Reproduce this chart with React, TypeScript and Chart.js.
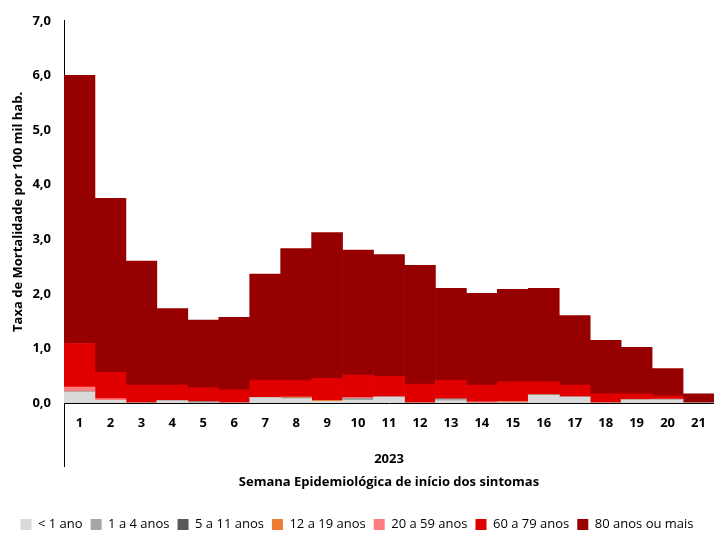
import React, { useEffect, useRef } from "react";
import { Chart, registerables } from "chart.js";

Chart.register(...registerables);

const weeks = ["1","2","3","4","5","6","7","8","9","10","11","12","13","14","15","16","17","18","19","20","21"];
const yTicks = [0, 1, 2, 3, 4, 5, 6, 7];

const menos1 = [0.2, 0.05, 0, 0.04, 0, 0, 0.1, 0.08, 0.03, 0.05, 0.11, 0, 0.04, 0, 0, 0.14, 0.11, 0, 0.06, 0.06, 0];
const de1a4 = [0.01, 0, 0, 0, 0.02, 0, 0, 0.01, 0, 0.03, 0, 0, 0.03, 0, 0.01, 0.01, 0, 0, 0, 0, 0];
const de5a11 = [0, 0, 0, 0, 0, 0, 0, 0, 0, 0, 0, 0, 0, 0, 0, 0, 0, 0, 0, 0, 0];
const de12a19 = [0, 0, 0, 0, 0, 0, 0, 0.02, 0.02, 0, 0, 0, 0, 0, 0.02, 0, 0, 0, 0, 0, 0];
const de20a59 = [0.08, 0.03, 0, 0, 0, 0, 0, 0, 0, 0.02, 0, 0, 0, 0.02, 0, 0, 0, 0, 0, 0.01, 0];
const de60a79 = [0.8, 0.48, 0.33, 0.29, 0.26, 0.24, 0.32, 0.3, 0.4, 0.41, 0.38, 0.345, 0.35, 0.31, 0.36, 0.24, 0.22, 0.17, 0.11, 0.06, 0];
const mais80 = [4.91, 3.19, 2.27, 1.4, 1.24, 1.33, 1.94, 2.42, 2.67, 2.29, 2.23, 2.175, 1.68, 1.68, 1.69, 1.71, 1.27, 0.98, 0.85, 0.5, 0.17];

const seriesNames = ["< 1 ano", "1 a 4 anos", "5 a 11 anos", "12 a 19 anos", "20 a 59 anos", "60 a 79 anos", "80 anos ou mais"];
const seriesData = [menos1, de1a4, de5a11, de12a19, de20a59, de60a79, mais80];
const seriesColors = ["#d9d9d9", "#a6a6a6", "#595959", "#ed7d31", "#ff7c80", "#e00000", "#960000"];

const FONT = "'Open Sans', sans-serif";

const axisExtend = {
  id: "axisExtend",
  afterDraw(chart: any) {
    const { ctx, chartArea } = chart;
    ctx.save();
    ctx.strokeStyle = "#000";
    ctx.lineWidth = 1;
    ctx.beginPath();
    ctx.moveTo(chartArea.left + 0.5, chartArea.bottom);
    ctx.lineTo(chartArea.left + 0.5, chartArea.bottom + 64);
    ctx.stroke();
    ctx.restore();
  },
};

export default function App() {
  const ref = useRef<HTMLCanvasElement>(null);
  useEffect(() => {
    if (!ref.current) return;
    const chart = new Chart(ref.current, {
      type: "bar",
      data: {
        labels: weeks,
        datasets: seriesNames.map((n, i) => ({
          label: n,
          data: seriesData[i],
          backgroundColor: seriesColors[i],
          borderWidth: 0,
          barPercentage: 1,
          categoryPercentage: 1,
        })),
      },
      options: {
        animation: false,
        responsive: false,
        devicePixelRatio: 1,
        layout: { padding: { top: 18, left: 0, right: 0, bottom: -8 } },
        plugins: {
          tooltip: { enabled: false },
          legend: {
            position: "bottom",
            labels: {
              boxWidth: 11,
              boxHeight: 11,
              padding: 8,
              color: "#000",
              font: { family: FONT, size: 13 },
            },
          },
        },
        scales: {
          x: {
            stacked: true,
            grid: { display: false, drawTicks: false },
            border: { display: true, color: "#000", width: 1 },
            ticks: { color: "#000", padding: 12, font: { family: FONT, size: 13, weight: "bold" } },
            title: {
              display: true,
              text: ["2023", "Semana Epidemiológica de início dos sintomas"],
              color: "#000",
              font: { family: FONT, size: 13, weight: "bold", lineHeight: 1.77 },
              padding: { top: 0, bottom: 16 },
            },
            afterFit: (s: any) => { s.height = 107; s.paddingRight = 0; s.paddingLeft = 0; },
          },
          y: {
            stacked: true,
            min: 0,
            max: 7,
            afterBuildTicks: (s: any) => { s.ticks = yTicks.map((v) => ({ value: v })); },
            grid: { display: false, drawTicks: false },
            border: { display: true, color: "#000", width: 1 },
            ticks: {
              color: "#000",
              padding: 13,
              font: { family: FONT, size: 13, weight: "bold" },
              callback: (v: any) => Number(v).toFixed(1).replace(".", ","),
            },
            title: {
              display: true,
              text: "Taxa de Mortalidade por 100 mil hab.",
              color: "#000",
              font: { family: FONT, size: 13, weight: "bold" },
              padding: { top: 10, bottom: 0 },
            },
            afterFit: (s: any) => { s.width = 64; },
          },
        },
      },
      plugins: [axisExtend],
    });
    return () => chart.destroy();
  }, []);
  return (
    <div style={{ position: "absolute", left: 0, top: 0, width: 714, height: 533 }}>
      <canvas ref={ref} width={714} height={533} />
    </div>
  );
}
